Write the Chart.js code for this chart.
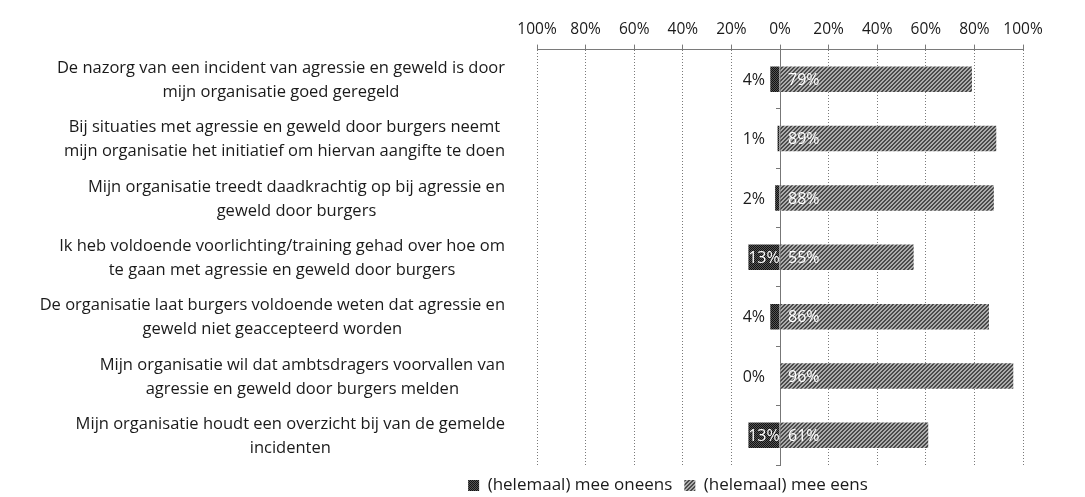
<!DOCTYPE html>
<html>
<head>
<meta charset="utf-8">
<script src="https://cdn.jsdelivr.net/npm/chart.js@4/dist/chart.umd.min.js"></script>
<style>
  html, body { margin: 0; padding: 0; background: #fff; }
  #chart { display: block; }
</style>
</head>
<body>
<canvas id="chart" width="1085" height="497"></canvas>
<script>
'use strict';

// ===== DATA =====
const categories = [
  ['De nazorg van een incident van agressie en geweld is door', 'mijn organisatie goed geregeld'],
  ['Bij situaties met agressie en geweld door burgers neemt', 'mijn organisatie het initiatief om hiervan aangifte te doen'],
  ['Mijn organisatie treedt daadkrachtig op bij agressie en', 'geweld door burgers'],
  ['Ik heb voldoende voorlichting/training gehad over hoe om', 'te gaan met agressie en geweld door burgers'],
  ['De organisatie laat burgers voldoende weten dat agressie en', 'geweld niet geaccepteerd worden'],
  ['Mijn organisatie wil dat ambtsdragers voorvallen van', 'agressie en geweld door burgers melden'],
  ['Mijn organisatie houdt een overzicht bij van de gemelde', 'incidenten']
];
const disagree = [4, 1, 2, 13, 4, 0, 13];
const agree = [79, 89, 88, 55, 86, 96, 61];
const seriesNames = ['(helemaal) mee oneens', '(helemaal) mee eens'];
const tickValues = [-100, -80, -60, -40, -20, 0, 20, 40, 60, 80, 100];

const FONT = '"Open Sans", "DejaVu Sans", sans-serif';
const TEXT = '#1a1a1a';

// Halftone-like fills, like the scanned print
function makePattern(dark, light, diagonal) {
  const c = document.createElement('canvas');
  c.width = 4; c.height = 4;
  const g = c.getContext('2d');
  for (let py = 0; py < 4; py++) {
    for (let px = 0; px < 4; px++) {
      const on = diagonal ? ((px + py) % 4 < 2) : ((px + py) % 2 === 0);
      g.fillStyle = on ? dark : light;
      g.fillRect(px, py, 1, 1);
    }
  }
  return g.createPattern(c, 'repeat');
}

const ctxEl = document.getElementById('chart');
const patDisagree = makePattern('#111', '#555', false);
const patAgree = makePattern('#4a4a4a', '#acacac', true);

// Category labels: each block centred on itself, blocks right-aligned to the plot
const categoryLabels = {
  id: 'categoryLabels',
  afterDraw(chart) {
    const { ctx, scales: { y }, chartArea } = chart;
    const right = chartArea.left - 32;
    const lineH = 24;
    ctx.save();
    ctx.font = `16.5px ${FONT}`;
    ctx.fillStyle = TEXT;
    ctx.textAlign = 'center';
    ctx.textBaseline = 'middle';
    categories.forEach((lines, i) => {
      const cy = y.getPixelForValue(i) + 1;
      const w = Math.max(...lines.map(l => ctx.measureText(l).width));
      const cx = right - w / 2;
      lines.forEach((l, j) => {
        ctx.fillText(l, cx, cy + (j - (lines.length - 1) / 2) * lineH);
      });
    });
    ctx.restore();
  }
};

// Value labels on the bars
const valueLabels = {
  id: 'valueLabels',
  afterDatasetsDraw(chart) {
    const { ctx, scales: { x } } = chart;
    const x0 = x.getPixelForValue(0);
    ctx.save();
    ctx.font = `16px ${FONT}`;
    ctx.textBaseline = 'middle';

    chart.getDatasetMeta(0).data.forEach((bar, i) => {
      const left = Math.min(bar.x, bar.base);
      const width = Math.abs(bar.x - bar.base);
      const txt = disagree[i] + '%';
      if (width > 20) {
        ctx.fillStyle = '#fff';
        ctx.textAlign = 'center';
        ctx.fillText(txt, left + width / 2, bar.y + 1);
      } else {
        ctx.fillStyle = TEXT;
        ctx.textAlign = 'right';
        ctx.fillText(txt, Math.min(left - 5, x0 - 15), bar.y + 1);
      }
    });

    chart.getDatasetMeta(1).data.forEach((bar, i) => {
      ctx.fillStyle = '#fff';
      ctx.textAlign = 'left';
      ctx.fillText(agree[i] + '%', x0 + 8, bar.y + 1);
    });
    ctx.restore();
  }
};

new Chart(ctxEl, {
  type: 'bar',
  data: {
    labels: categories,
    datasets: [
      {
        label: seriesNames[0],
        data: disagree.map(v => -v),
        backgroundColor: patDisagree,
        borderWidth: 0
      },
      {
        label: seriesNames[1],
        data: agree,
        backgroundColor: patAgree,
        borderWidth: 0
      }
    ]
  },
  options: {
    indexAxis: 'y',
    responsive: false,
    animation: false,
    barPercentage: 0.43,
    categoryPercentage: 1,
    layout: { padding: { left: 313, right: 62, top: 14, bottom: -7 } },
    plugins: {
      legend: {
        position: 'bottom',
        labels: {
          color: TEXT,
          font: { family: FONT, size: 17 },
          boxWidth: 11,
          boxHeight: 11,
          padding: 12
        }
      },
      tooltip: { enabled: false },
      title: { display: false }
    },
    scales: {
      x: {
        position: 'top',
        stacked: true,
        min: -100,
        max: 100,
        afterBuildTicks: s => { s.ticks = tickValues.map(v => ({ value: v })); },
        ticks: {
          color: TEXT,
          font: { family: FONT, size: 15.5 },
          padding: 6,
          maxRotation: 0,
          callback: v => Math.abs(v) + '%'
        },
        grid: { color: '#7a7a7a', tickLength: 5, lineWidth: 1 },
        border: { display: true, color: '#7a7a7a', dash: [1, 2] }
      },
      y: {
        stacked: true,
        ticks: { display: false },
        grid: { display: false },
        border: { display: false },
        afterFit: s => { s.width = 224; }
      },
      y2: {
        type: 'category',
        position: { x: 0 },
        offset: true,
        ticks: { display: false },
        grid: { offset: true, drawOnChartArea: false, tickLength: 4, color: '#777' },
        border: { display: true, color: '#777', dash: [1, 2] }
      }
    }
  },
  plugins: [categoryLabels, valueLabels]
});
</script>
</body>
</html>
